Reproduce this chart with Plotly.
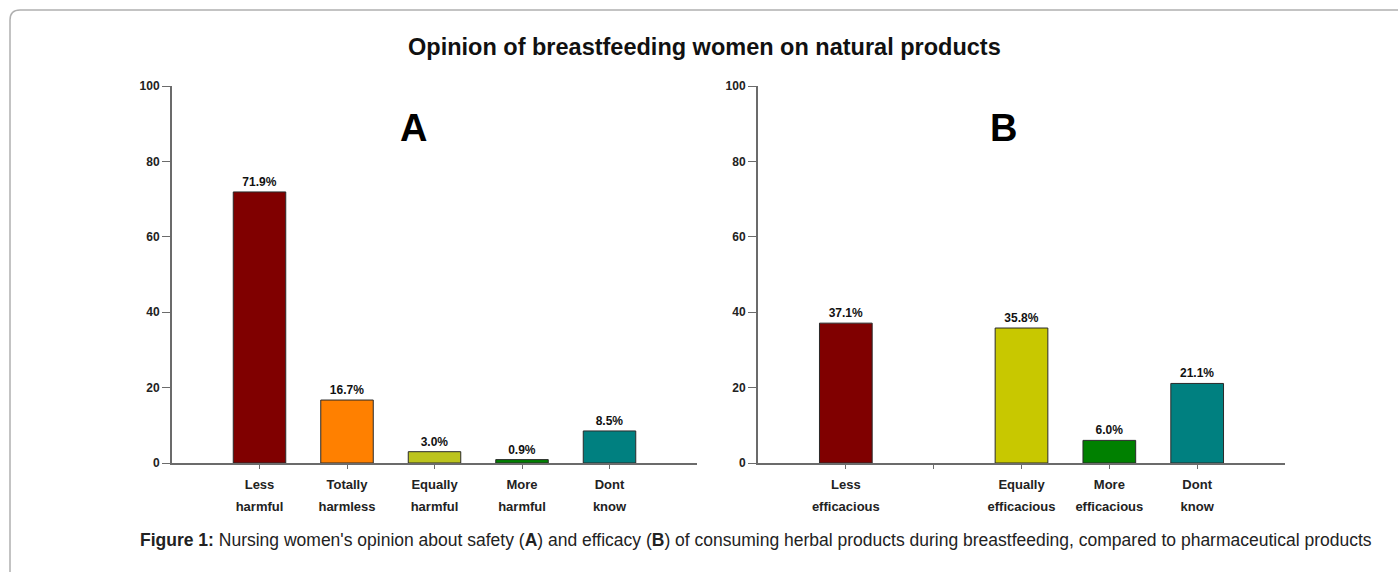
import plotly.graph_objects as go

# ---- data ----
cats_a = ["Less<br>harmful", "Totally<br>harmless", "Equally<br>harmful", "More<br>harmful", "Dont<br>know"]
vals_a = [71.9, 16.7, 3.0, 0.9, 8.5]
cols_a = ["#800000", "#FF8000", "#BCC41E", "#008000", "#008080"]

cats_b = ["Less<br>efficacious", " <br> ", "Equally<br>efficacious", "More<br>efficacious", "Dont<br>know"]
vals_b = [37.1, None, 35.8, 6.0, 21.1]
cols_b = ["#800000", "#FFFFFF", "#C8C800", "#008000", "#008080"]

y_ticks = [0, 20, 40, 60, 80, 100]

title_text = "Opinion of breastfeeding women on natural products"
caption = ("<b>Figure 1:</b> Nursing women's opinion about safety (<b>A</b>) and efficacy (<b>B</b>) "
           "of consuming herbal products during breastfeeding, compared to pharmaceutical products")

W, H = 1398, 572
FONT = "Arial, Liberation Sans, Helvetica, sans-serif"

def px_x(p):
    return p / W

def px_y(p):
    return (H - p) / H

def line_of(cats, i):
    return [c.split("<br>")[i] for c in cats]

fig = go.Figure()

def bar_text(v):
    return [("" if x is None else f"{x:.1f}%") for x in v]

fig.add_trace(go.Bar(
    x=list(range(len(cats_a))), y=vals_a, marker=dict(color=cols_a, line=dict(color="#2a2a2a", width=1)),
    width=0.6, text=bar_text(vals_a), textposition="outside", cliponaxis=False,
    textfont=dict(family=FONT, size=12, color="#111", weight="bold"),
    xaxis="x", yaxis="y", showlegend=False, hoverinfo="skip"))

fig.add_trace(go.Bar(
    x=list(range(len(cats_b))), y=vals_b, marker=dict(color=cols_b, line=dict(color="#2a2a2a", width=1)),
    width=0.6, text=bar_text(vals_b), textposition="outside", cliponaxis=False,
    textfont=dict(family=FONT, size=12, color="#111", weight="bold"),
    xaxis="x2", yaxis="y2", showlegend=False, hoverinfo="skip"))

TICKFONT = dict(family=FONT, size=13, color="#222", weight="bold")
xcommon = dict(range=[-1, 5], showgrid=False, zeroline=False, showline=True, linecolor="#6b6b6b",
               linewidth=2, ticks="outside", ticklen=4, tickcolor="#6b6b6b", tickwidth=1,
               tickfont=TICKFONT, tickmode="array", ticklabelstandoff=4,
               tickvals=list(range(5)), fixedrange=True, automargin=False)
# second line of each category label on an overlaying axis (same scale)
xsecond = dict(range=[-1, 5], showgrid=False, zeroline=False, showline=False, ticks="",
               tickfont=TICKFONT, tickmode="array", ticklabelstandoff=34,
               tickvals=list(range(5)), fixedrange=True, automargin=False, side="bottom")
ycommon = dict(range=[0, 100], showgrid=False, zeroline=False, showline=True, linecolor="#6b6b6b",
               linewidth=2, ticks="outside", ticklen=8, tickcolor="#6b6b6b", tickwidth=1,
               tickvals=y_ticks, tickfont=dict(family=FONT, size=12, color="#222", weight="bold"),
               fixedrange=True, automargin=False)

fig.update_layout(
    width=W, height=H, autosize=False,
    margin=dict(l=0, r=0, t=0, b=0, pad=0, autoexpand=False),
    paper_bgcolor="white", plot_bgcolor="white",
    bargap=0.4,
    xaxis=dict(domain=[px_x(172), px_x(697)], anchor="y", ticktext=line_of(cats_a, 0), **xcommon),
    yaxis=dict(domain=[px_y(463), px_y(86)], anchor="x", **ycommon),
    xaxis2=dict(domain=[px_x(758), px_x(1285)], anchor="y2", ticktext=line_of(cats_b, 0), **xcommon),
    yaxis2=dict(domain=[px_y(463), px_y(86)], anchor="x2", **ycommon),
    xaxis3=dict(overlaying="x", anchor="y", ticktext=line_of(cats_a, 1), **xsecond),
    xaxis4=dict(overlaying="x2", anchor="y2", ticktext=line_of(cats_b, 1), **xsecond),
    annotations=[
        dict(text="<b>" + title_text + "</b>", x=px_x(704), y=px_y(47), xref="paper", yref="paper",
             xanchor="center", yanchor="middle", showarrow=False,
             font=dict(family=FONT, size=23.5, color="#111")),
        dict(text="<b>A</b>", x=px_x(413), y=px_y(128), xref="paper", yref="paper", showarrow=False,
             xanchor="center", yanchor="middle", font=dict(family=FONT, size=38, color="#000")),
        dict(text="<b>B</b>", x=px_x(1003), y=px_y(128), xref="paper", yref="paper", showarrow=False,
             xanchor="center", yanchor="middle", font=dict(family=FONT, size=38, color="#000")),
        dict(text=caption, x=px_x(756), y=px_y(540), xref="paper", yref="paper", showarrow=False,
             xanchor="center", yanchor="middle", font=dict(family=FONT, size=17.5, color="#222")),
    ],
    shapes=[
        dict(type="path", xref="paper", yref="paper", layer="below",
             path=(f"M {px_x(10)},{px_y(600)} L {px_x(10)},{px_y(20)} "
                   f"Q {px_x(10)},{px_y(10)} {px_x(20)},{px_y(10)} L {px_x(1420)},{px_y(10)}"),
             line=dict(color="#b0b0b0", width=1.5)),
    ],
)

# invisible anchor traces so the overlaying label axes are drawn
fig.add_trace(go.Bar(x=[], y=[], xaxis="x3", yaxis="y", showlegend=False, hoverinfo="skip"))
fig.add_trace(go.Bar(x=[], y=[], xaxis="x4", yaxis="y2", showlegend=False, hoverinfo="skip"))

fig.write_html("out.html", config={"displayModeBar": False},
               post_script="document.body.style.margin='0px';")
